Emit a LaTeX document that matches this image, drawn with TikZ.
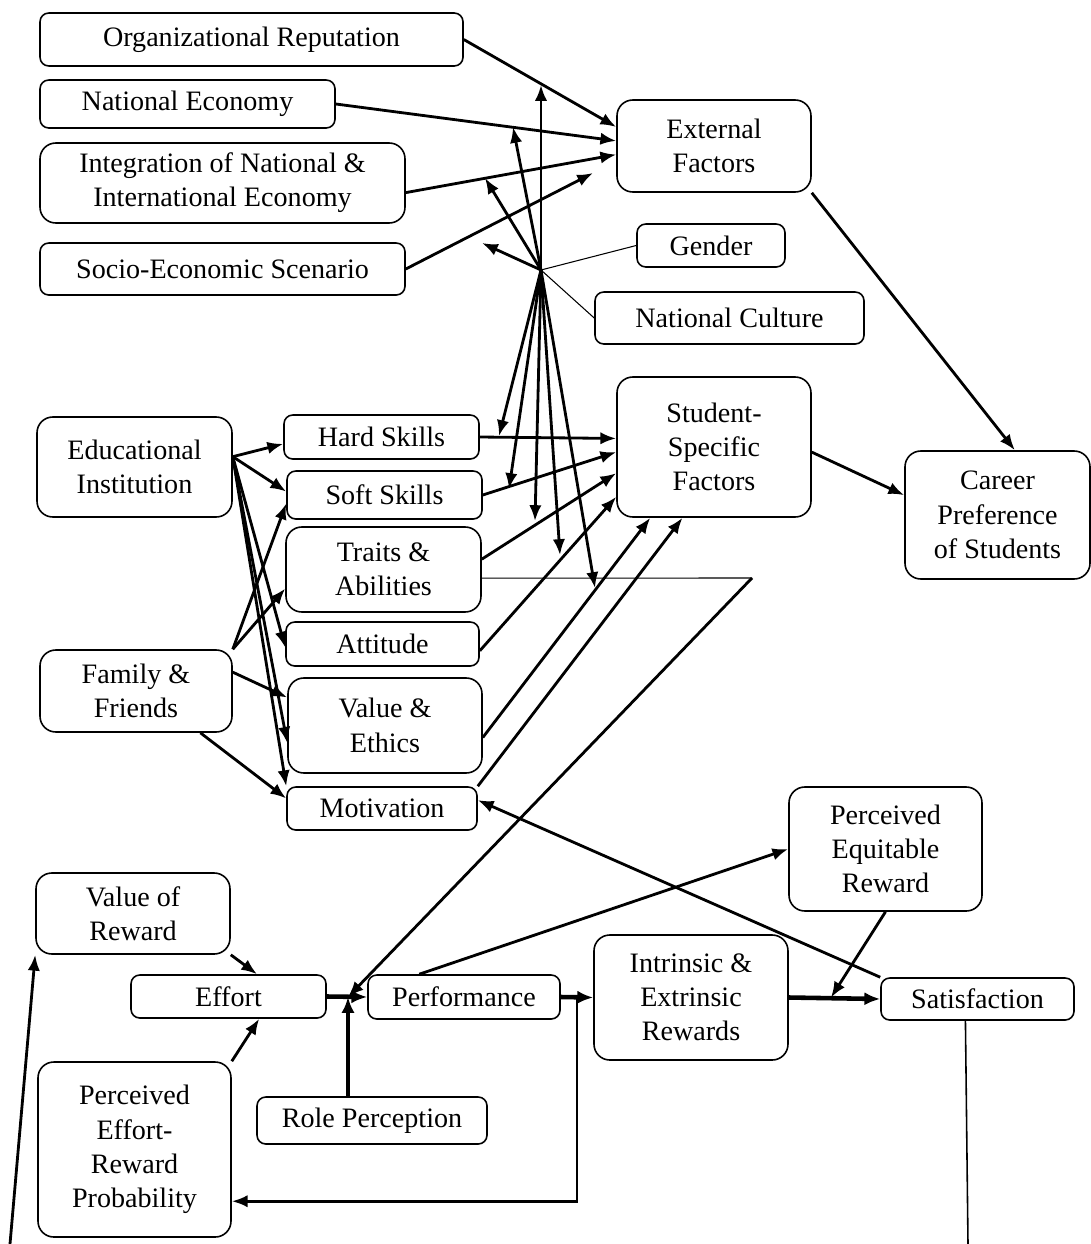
\documentclass[tikz,border=0pt]{standalone}
\usepackage{fontspec}
\setmainfont{Liberation Serif}
\usetikzlibrary{arrows.meta}

\begin{document}
\begin{tikzpicture}[x=0.02cm, y=-0.02cm,
    box/.style={draw, rounded corners=5pt, align=center, inner sep=0pt, line width=0.9pt,
      font=\fontsize{16}{19.5}\selectfont},
    big/.style={box, rounded corners=9pt},
    sz/.style n args={2}{minimum width=#1*0.02cm, minimum height=#2*0.02cm},
    arr/.style={line width=1.6pt, -{Latex[length=9pt,width=7pt]}},
    heavy/.style={line width=2.6pt, -{Latex[length=9pt,width=7.5pt]}},
    thinline/.style={line width=0.6pt}]
    \useasboundingbox (0,0) rectangle (1091,1244);

    \node[box, sz={423}{53}] (orgrep) at (251.5,39.5) {Organizational Reputation};
    \node[box, sz={295}{48}] (natecon) at (187.5,104) {National Economy};
    \node[big, sz={365}{80}] (integ) at (222.5,183) {Integration of National \&\\International Economy};
    \node[box, sz={365}{52}] (socio) at (222.5,269) {Socio-Economic Scenario};
    \node[big, sz={194}{92}] (external) at (714,146) {External\\Factors};
    \node[box, sz={148}{43}] (gender) at (711,245.5) {Gender};
    \node[box, sz={269}{52}] (natcult) at (729.5,318) {National Culture};
    \node[big, sz={194}{140}] (student) at (714,447) {Student-\\Specific\\Factors};
    \node[big, sz={185}{128}] (career) at (997.5,515) {Career\\Preference\\of Students};

    \node[big, sz={195}{100}] (edu) at (134.5,467) {Educational\\Institution};
    \node[big, sz={192}{82}] (family) at (136,691) {Family \&\\Friends};
    \node[box, sz={195}{44}] (hard) at (381.5,437) {Hard Skills};
    \node[box, sz={195}{48}] (soft) at (384.5,495) {Soft Skills};
    \node[big, sz={195}{85}] (traits) at (383.5,569.5) {Traits \&\\Abilities};
    \node[box, sz={193}{44}] (attitude) at (382.5,644) {Attitude};
    \node[big, sz={194}{95}] (valeth) at (385,725.5) {Value \&\\Ethics};
    \node[box, sz={190}{43}] (motiv) at (382,808.5) {Motivation};

    \node[big, sz={194}{81}] (valrew) at (133,913.5) {Value of\\Reward};
    \node[box, sz={195}{43}] (effort) at (228.5,996.5) {Effort};
    \node[box, sz={192}{44}] (perf) at (464,997) {Performance};
    \node[big, sz={194}{125}] (intr) at (691,997.5) {Intrinsic \&\\Extrinsic\\Rewards};
    \node[big, sz={193}{124}] (eqrew) at (885.5,849) {Perceived\\Equitable\\Reward};
    \node[box, sz={193}{42}] (satis) at (977.5,999) {Satisfaction};
    \node[box, sz={230}{47}] (role) at (372,1120.5) {Role Perception};
    \node[big, sz={193}{175}] (perceff) at (134.5,1149.5) {Perceived\\Effort-\\Reward\\Probability};

    \coordinate (hub) at (541,270);
    \coordinate (up1) at (541,85);
    \coordinate (up2) at (513,127);
    \coordinate (up3) at (485,178);
    \coordinate (up4) at (482,243);
    \coordinate (dn1) at (499,436);
    \coordinate (dn2) at (509,489);
    \coordinate (dn3) at (535,521);
    \coordinate (dn4) at (560,555);
    \coordinate (dn5) at (595,588);
    \coordinate (socioend) at (593,173);
    \coordinate (tbend) at (752,578);
    \coordinate (jn) at (348,997);
    \coordinate (fb) at (577,997.5);
    \coordinate (eqend) at (831,997.5);
    \coordinate (sbot) at (968,1244);
    \coordinate (lbot) at (10,1244);

    \draw[arr] (orgrep.east) -- (external.169);
    \draw[arr] (natecon.east) -- (external.177);
    \draw[arr] (integ.357) -- (external.185);
    \draw[arr] (socio.east) -- (socioend);
    \draw[thinline] (gender.west) -- (hub);
    \draw[thinline] (natcult.west) -- (hub);
    \foreach \dst in {up1,up2,up3,up4,dn1,dn2,dn3,dn4,dn5}
        \draw[arr] (hub) -- (\dst);

    \draw[arr] (hard.east) -- (student.175);
    \draw[arr] (soft.east) -- (student.183);
    \draw[arr] (traits.6) -- (student.195);
    \draw[arr] (attitude.356) -- (student.207);
    \draw[arr] (valeth.353) -- (student.228);
    \draw[arr] (motiv.north east) -- (student.246);
    \draw[arr] (student.357) -- (career.168);
    \draw[arr] (external.south east) -- (career.75);

    \foreach \dst in {hard.184,soft.178,attitude.182,valeth.190,motiv.north west}
        \draw[arr] (edu.6) -- (\dst);
    \draw[arr] (family.north east) -- (soft.185);
    \draw[arr] (family.north east) -- (traits.191);
    \draw[arr] (family.11) -- (valeth.164);
    \draw[arr] (family.327) -- (motiv.174);

    \draw[arr] (valrew.south east) -- (effort.38);
    \draw[arr] (perceff.north east) -- (effort.324);
    \draw[heavy] (effort.east) -- (perf.west);
    \draw[heavy] (role.north -| jn) -- (jn);
    \draw[thinline] (traits.355) -- (tbend);
    \draw[arr] (tbend) -- (jn);
    \draw[heavy] (perf.east) -- (intr.west);
    \draw[arr] (fb) |- (perceff.332);
    \draw[arr] (perf.153) -- (eqrew.west);
    \draw[arr] (satis.north west) -- (motiv.5);
    \draw[heavy] (intr.east) -- (satis.west);
    \draw[arr] (eqrew.south) -- (eqend);
    \draw[line width=0.9pt] (satis.241) -- (sbot);
    \draw[arr] (lbot) -- (valrew.south west);
\end{tikzpicture}
\end{document}
